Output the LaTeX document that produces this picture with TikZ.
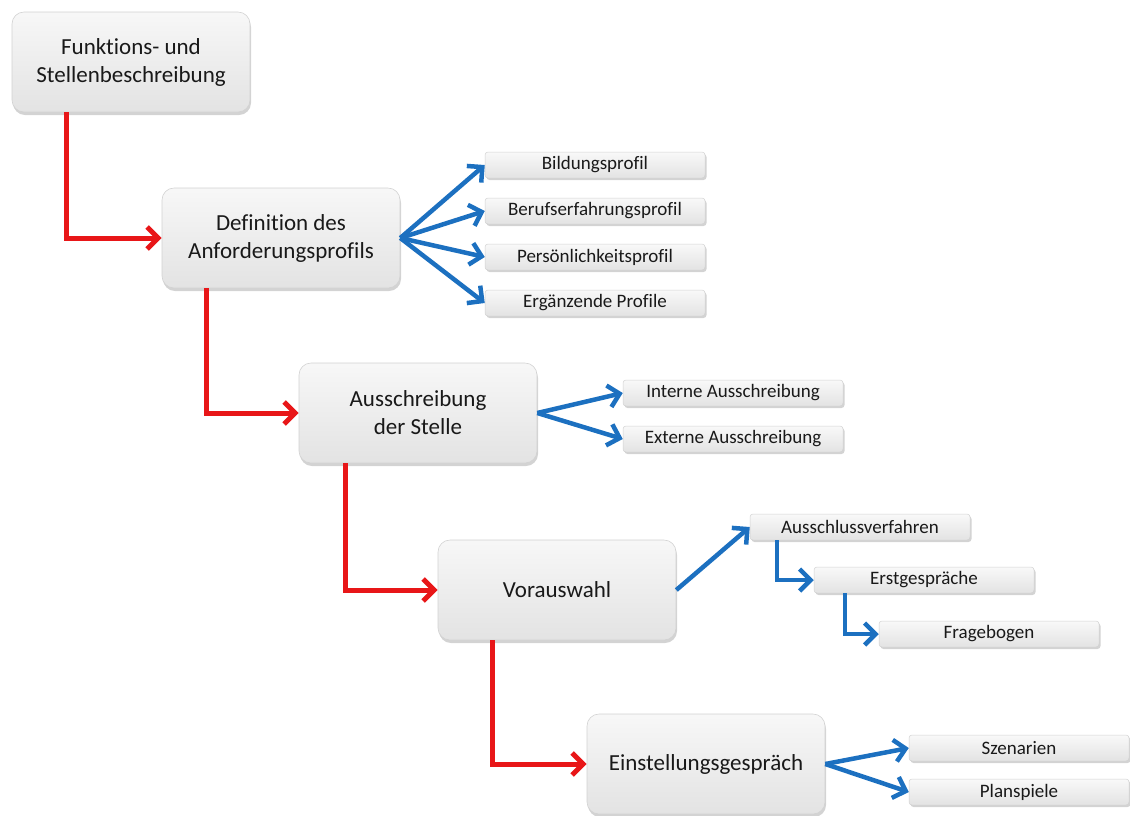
\documentclass[tikz,border=0pt]{standalone}
\usepackage{fontspec}
\setmainfont{Carlito}[Ligatures={NoCommon}]
\usetikzlibrary{arrows.meta,shadows,calc}
\definecolor{arrred}{RGB}{232,22,24}
\definecolor{arrblue}{RGB}{28,112,192}
\tikzset{
  bigbox/.style={rectangle, rounded corners=12pt, minimum width=238pt, minimum height=100pt,
    top color=gray!6, bottom color=gray!22, draw=gray!35, line width=0.6pt,
    drop shadow={shadow xshift=1pt, shadow yshift=-3pt, opacity=0.35},
    align=center, font=\fontsize{23}{28}\selectfont, text=black!90, inner sep=2pt},
  smallbox/.style={rectangle, rounded corners=3pt, minimum width=220pt, minimum height=26pt,
    top color=gray!5, bottom color=gray!22, draw=gray!35, line width=0.5pt,
    drop shadow={shadow xshift=1.5pt, shadow yshift=-2pt, opacity=0.35},
    font=\fontsize{19}{21}\selectfont, text=black!90, inner sep=1pt},
  redarr/.style={draw=arrred, line width=5pt, -{Straight Barb[length=11pt,width=22pt]}},
  bluearr/.style={draw=arrblue, line width=4.5pt, -{Straight Barb[length=11pt,width=22pt]}},
}
\begin{document}
\begin{tikzpicture}[x=1pt,y=-1pt]
\useasboundingbox (0,0) rectangle (1130,815);
% main boxes
\node[bigbox] (b1) at (131,62) {Funktions- und\\Stellenbeschreibung};
\node[bigbox] (b2) at (281,238) {Definition des\\Anforderungsprofils};
\node[bigbox] (b3) at (418,413) {Ausschreibung\\der Stelle};
\node[bigbox] (b4) at (557,590) {Vorauswahl};
\node[bigbox] (b5) at (706,764) {Einstellungsgespräch};
% small boxes
\node[smallbox] (s1) at (595,165) {Bildungsprofil};
\node[smallbox] (s2) at (595,211) {Berufserfahrungsprofil};
\node[smallbox] (s3) at (595,257) {Persönlichkeitsprofil};
\node[smallbox] (s4) at (595,303) {Ergänzende Profile};
\node[smallbox] (i1) at (733,393) {Interne Ausschreibung};
\node[smallbox] (i2) at (733,439) {Externe Ausschreibung};
\node[smallbox] (a1) at (860,527) {Ausschlussverfahren};
\node[smallbox] (a2) at (924,580) {Erstgespräche};
\node[smallbox] (a3) at (989,634) {Fragebogen};
\node[smallbox] (e1) at (1019,748) {Szenarien};
\node[smallbox] (e2) at (1019,792) {Planspiele};
% red connectors
\draw[redarr] ([xshift=55pt]b1.south west) |- (b2.west);
\draw[redarr] ([xshift=45pt]b2.south west) |- (b3.west);
\draw[redarr] ([xshift=47pt]b3.south west) |- (b4.west);
\draw[redarr] ([xshift=55pt]b4.south west) |- (b5.west);
% blue connectors
\foreach \t in {s1,s2,s3,s4} \draw[bluearr] (b2.east) -- (\t.west);
\foreach \t in {i1,i2} \draw[bluearr] (b3.east) -- (\t.west);
\draw[bluearr] (b4.east) -- (a1.west);
\draw[bluearr] ([xshift=27pt]a1.south west) |- (a2.west);
\draw[bluearr] ([xshift=31pt]a2.south west) |- (a3.west);
\foreach \t in {e1,e2} \draw[bluearr] (b5.east) -- (\t.west);
\end{tikzpicture}
\end{document}
